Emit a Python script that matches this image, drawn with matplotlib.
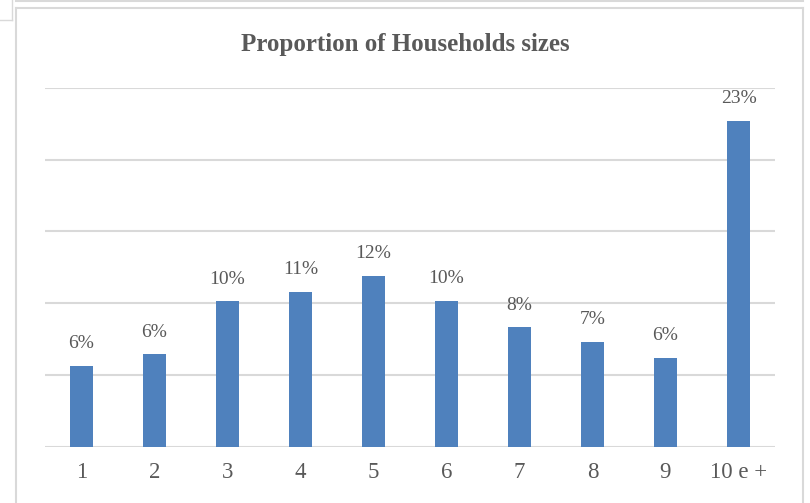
import numpy as np
import matplotlib.pyplot as plt
from matplotlib.lines import Line2D

# Datos
categorias = ['1', '2', '3', '4', '5', '6', '7', '8', '9', '10 e +']
proporciones = [5.65, 6.44, 10.14, 10.81, 11.9, 10.18, 8.33, 7.32, 6.19, 22.71]
etiquetas = ['6%', '6%', '10%', '11%', '12%', '10%', '8%', '7%', '6%', '23%']

gris_texto = '#595959'
gris_linea = '#D9D9D9'
azul = '#4F81BD'

fig = plt.figure(figsize=(8.1, 5.03), dpi=100)
W, H = 810, 503

# Marco del gráfico (como en la captura)
def linea_px(x0, y0, x1, y1, lw=1.5):
    fig.add_artist(Line2D([x0 / W, x1 / W], [1 - y0 / H, 1 - y1 / H],
                          transform=fig.transFigure, color=gris_linea, lw=lw))

linea_px(16, 8, 803, 8)
linea_px(16, 8, 16, 503)
linea_px(803, 8, 803, 503)
linea_px(16, 0.5, 803, 0.5)
linea_px(12, 0, 12, 20, lw=1)
linea_px(0, 20, 12, 20, lw=1)

ax = fig.add_axes([45 / W, 1 - 446.7 / H, 730 / W, (446.7 - 88) / H])
x = np.arange(len(categorias))
barras = ax.bar(x, proporciones, width=0.32, color=azul, zorder=3)

ax.set_xlim(-0.5, len(categorias) - 0.5)
ax.set_ylim(0, 25)
ax.set_yticks([0, 5, 10, 15, 20, 25])
ax.yaxis.grid(True, color=gris_linea, lw=1.5, zorder=0)
ax.set_yticklabels([])
ax.tick_params(axis='y', length=0)
ax.tick_params(axis='x', length=0, pad=11)
ax.set_xticks(x)
ax.set_xticklabels(categorias, fontsize=16.5, color=gris_texto, family='Liberation Serif')
for s in ax.spines.values():
    s.set_visible(False)

for xi, v, et in zip(x, proporciones, etiquetas):
    ax.text(xi, v + 0.95, et, ha='center', va='bottom', fontsize=14,
            color=gris_texto, family='Liberation Serif')

fig.text(0.5, 1 - 44 / H, 'Proportion of Households sizes', ha='center', va='center',
         fontsize=18, fontweight='bold', color=gris_texto, family='Liberation Serif')

plt.savefig('out.png', dpi=100)
